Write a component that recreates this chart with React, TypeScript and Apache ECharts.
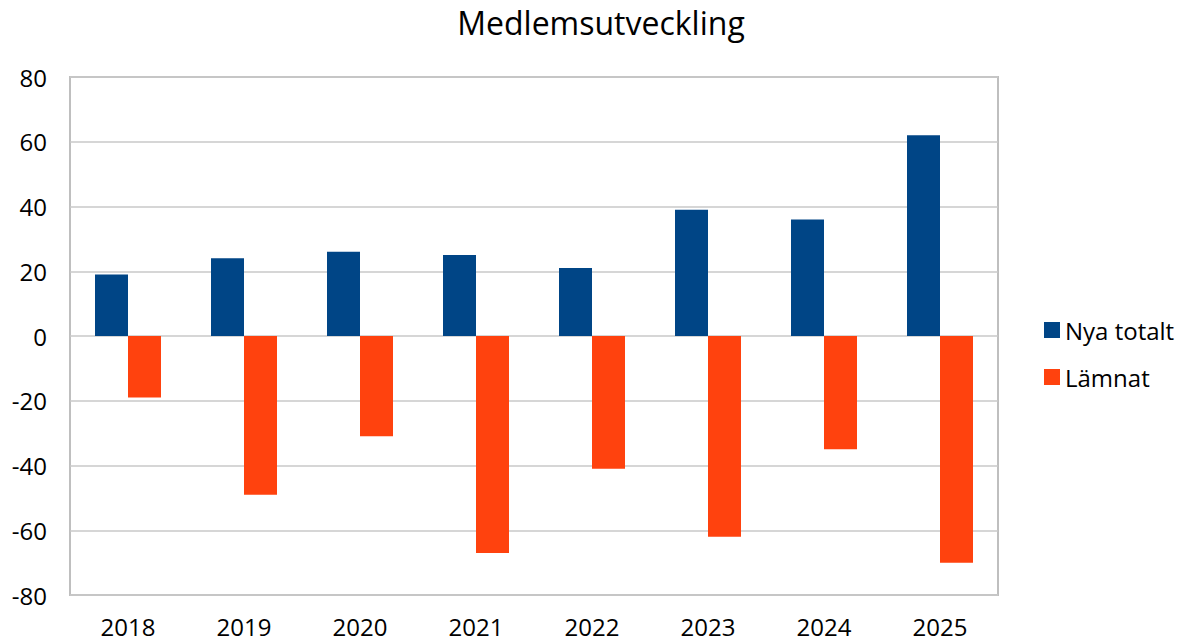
import React, { useEffect, useRef } from "react";
import * as echarts from "echarts";

const years = ["2018", "2019", "2020", "2021", "2022", "2023", "2024", "2025"];
const nyaTotalt = [19, 24, 26, 25, 21, 39, 36, 62];
const lamnat = [-19, -49, -31, -67, -41, -62, -35, -70];

const FONT = "'Open Sans', 'Liberation Sans', Arial, sans-serif";

export default function App() {
  const ref = useRef<HTMLDivElement>(null);
  useEffect(() => {
    document.body.style.margin = "0";
    const chart = echarts.init(ref.current!, null, { renderer: "svg" });
    chart.setOption({
      animation: false,
      backgroundColor: "#ffffff",
      textStyle: { fontFamily: FONT },
      title: {
        text: "Medlemsutveckling",
        left: 596,
        textAlign: "center",
        top: 1,
        textStyle: { fontFamily: FONT, fontSize: 32, fontWeight: "normal", color: "#000" },
      },
      legend: {
        orient: "vertical",
        left: 1039,
        top: 313,
        itemWidth: 16,
        itemHeight: 16,
        itemGap: 23,
        icon: "rect",
        textStyle: { fontFamily: FONT, fontSize: 24, color: "#000" },
        data: ["Nya totalt", "Lämnat"],
      },
      grid: {
        left: 70,
        top: 77,
        width: 928,
        height: 518,
        show: true,
        borderColor: "#BFBFBF",
        borderWidth: 2,
        containLabel: false,
      },
      xAxis: {
        type: "category",
        data: years,
        position: "bottom",
        axisLine: { show: false, onZero: false },
        axisTick: { show: false },
        axisLabel: { fontFamily: FONT, fontSize: 24, color: "#000", margin: 19, lineHeight: 24 },
      },
      yAxis: {
        type: "value",
        min: -80,
        max: 80,
        interval: 20,
        axisLine: { show: false },
        axisTick: { show: false },
        axisLabel: { fontFamily: FONT, fontSize: 24, color: "#000", margin: 23 },
        splitLine: { lineStyle: { color: "#C8C8C8", width: 1.5 } },
      },
      series: [
        {
          name: "Nya totalt",
          type: "bar",
          data: nyaTotalt,
          barWidth: 33,
          barGap: "0%",
          itemStyle: { color: "#004586" },
        },
        {
          name: "Lämnat",
          type: "bar",
          data: lamnat,
          barWidth: 33,
          barGap: "0%",
          itemStyle: { color: "#FF420E" },
        },
      ],
    });
    return () => chart.dispose();
  }, []);
  return <div ref={ref} style={{ width: 1184, height: 643 }} />;
}
